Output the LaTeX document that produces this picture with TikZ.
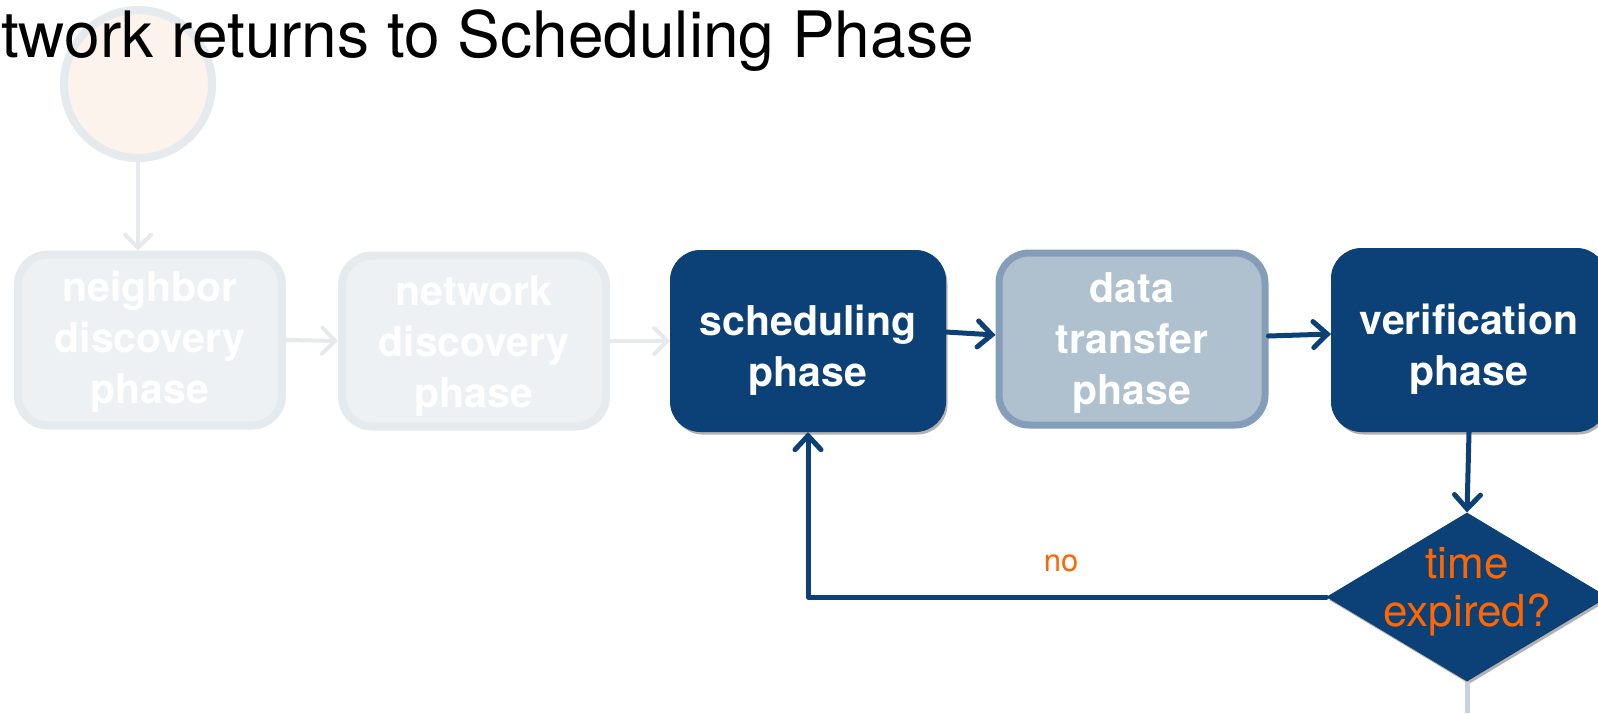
\documentclass[tikz,border=0pt]{standalone}
\usepackage{fontspec}
\setmainfont{TeX Gyre Heros}
\usetikzlibrary{arrows.meta,shapes.geometric,shadows,calc}
\definecolor{dblue}{RGB}{12,65,120}
\definecolor{lfill}{RGB}{238,241,244}
\definecolor{lborder}{RGB}{229,234,239}
\definecolor{larrow}{RGB}{230,234,239}
\definecolor{dfill}{RGB}{175,192,206}
\definecolor{dborder}{RGB}{132,158,185}
\definecolor{cfill}{RGB}{251,243,236}
\definecolor{orng}{RGB}{255,102,0}
\definecolor{exitline}{RGB}{200,210,222}
\newcommand{\liftline}[1]{\rule{0pt}{#1}}
\tikzset{
  boxbase/.style={rectangle, rounded corners=30, align=center, inner sep=0,
    font=\bfseries\fontsize{41}{51}\selectfont, text=white},
  darkbox/.style={boxbase, fill=dblue, draw=dblue, line width=1,
    minimum width=275, minimum height=181,
    drop shadow={shadow xshift=2pt, shadow yshift=-3pt, opacity=.3, fill=black}},
  lightbox/.style={boxbase, fill=lfill, draw=lborder, line width=8,
    minimum width=264, minimum height=171},
  databox/.style={boxbase, fill=dfill, draw=dborder, line width=7,
    minimum width=266, minimum height=172,
    drop shadow={shadow xshift=2pt, shadow yshift=-3pt, opacity=.2, fill=black}},
  darrow/.style={draw=dblue, line width=5, line cap=round, line join=round,
    -{Straight Barb[length=14pt, width=26pt, line cap=round]}},
  larrowst/.style={draw=larrow, line width=4, line cap=round,
    -{Straight Barb[length=13pt, width=26pt, line cap=round]}},
}
\begin{document}
\begin{tikzpicture}[x=1pt,y=-1pt]
\clip (0,0) rectangle (1598,713);
\fill[white] (0,0) rectangle (1598,713);

% start circle
\node (start) [circle, fill=cfill, draw=lborder, line width=8, minimum size=148, inner sep=0] at (138,84) {};

% title
\node (title) [anchor=base west, inner sep=0, font=\fontsize{64}{70}\selectfont] at (1,57) {twork returns to Scheduling Phase};

% boxes
\node (nbr) [lightbox] at (150,340) {\liftline{34pt}neighbor\\discovery\\phase};
\node (net) [lightbox] at (474,341) {\liftline{40pt}network\\discovery\\phase};
\node (sched) [darkbox] at (808,341) {\liftline{49pt}scheduling\\phase};
\node (data) [databox] at (1132,339) {\liftline{37pt}data\\transfer\\phase};
\node (verif) [darkbox, minimum height=183] at (1469,340) {\liftline{49pt}verification\\phase};

% decision
\node (dia) [diamond, fill=dblue, draw=dblue, line width=1, minimum width=280, minimum height=168, inner sep=0,
  drop shadow={shadow xshift=2pt, shadow yshift=-3pt, opacity=.3, fill=black}] at (1467,597) {};
\node (diatext) [align=center, text=orng, inner sep=0, font=\fontsize{44}{48}\selectfont] at (1467,592) {time\\expired?};

\coordinate (exitend) at (1467,713);
\draw[exitline, line width=5] (dia.south) -- (exitend);

% light connectors
\draw[larrowst] (start.south) -- (start.south |- nbr.north);
\draw[larrowst] (nbr.east) -- (net.west);
\draw[larrowst] (net.east) -- (sched.west);

% dark connectors
\draw[darrow] ([yshift=9pt]sched.east) -- ([yshift=4pt]data.west);
\draw[darrow] ([yshift=3pt]data.east) -- ([yshift=6pt]verif.west);
\draw[darrow] (verif.south) -- (dia.north);
\draw[darrow] (dia.west) -| (sched.south);

\node (no) [text=orng, inner sep=0, font=\fontsize{31}{34}\selectfont] at (1061,563) {no};
\end{tikzpicture}
\end{document}
